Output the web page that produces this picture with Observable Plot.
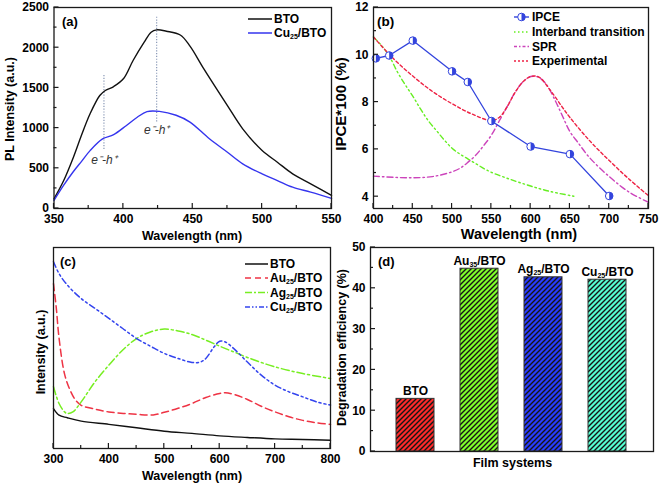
<!DOCTYPE html>
<html><head><meta charset="utf-8">
<script src="https://cdn.jsdelivr.net/npm/d3@7"></script>
<script src="https://cdn.jsdelivr.net/npm/@observablehq/plot@0.6"></script>
<style>
body{margin:0;background:#fff;}
#wrap{position:relative;width:661px;height:484px;overflow:hidden;font-family:"Liberation Sans",Arial,Helvetica,sans-serif;}
.panel{position:absolute;}
.panel svg{overflow:visible;}
</style></head>
<body><div id="wrap"></div>
<script>
// ---------- Panel (a) data: PL spectra ----------
const aBTOx = [350,357,364,370,376,383,387,393,400,407,415,420,424,431,441,448,458,475,486,500,511,522,535,550];
const aBTOy = [120,348,638,920,1178,1405,1468,1517,1613,1841,2069,2193,2222,2205,2158,2020,1737,1280,991,721,576,431,307,162];
const aCux = [350,357,364,370,376,385,393,402,410,417,426,438,448,462,475,486,500,511,522,535,550];
const aCuy = [100,290,460,590,720,865,918,1030,1135,1205,1208,1160,1075,867,700,556,431,348,265,203,125];
const aPeakX = [386, 424];
const aPeakTop = [1654, 2380];
const aPeakBottom = [721, 1073];
const aPeakLabelY = [597, 970];
const aPeakLabel = ["e⁻-h⁺", "e⁻-h⁺"];
const aXTicks = [350,400,450,500,550];
const aXMinor = [375,425,475,525];
const aYTicks = [0,500,1000,1500,2000,2500];
const aYMinor = [250,750,1250,1750,2250];

// ---------- Panel (b) data: IPCE ----------
const bIPCEx = [403,420,450,500,520,550,600,650,700];
const bIPCEy = [9.85,9.97,10.6,9.3,8.85,7.2,6.12,5.8,4.03];
const bInterx = [400,410,420,430,440,450,460,470,480,490,500,510,520,530,540,550,575,600,625,655];
const bIntery = [10.75,10.4,9.95,9.3,8.75,8.25,7.7,7.2,6.8,6.4,6.05,5.8,5.6,5.4,5.2,5.03,4.72,4.45,4.22,4.02];
const bSPRx = [400,425,450,475,500,510,520,530,540,550,560,570,580,590,600,610,620,630,640,650,660,675,700,725,750];
const bSPRy = [4.87,4.82,4.8,4.85,5.05,5.2,5.45,5.75,6.15,6.6,7.2,7.8,8.4,8.85,9.08,9.05,8.75,8.15,7.45,6.75,6.3,5.65,4.85,4.2,3.76];
const bExpx = [400,425,450,475,500,525,550,560,570,580,590,600,610,625,640,650,675,700,725,750];
const bExpy = [10.75,9.85,9.1,8.45,7.93,7.5,7.22,7.35,7.8,8.4,8.85,9.08,9.07,8.5,7.8,7.35,6.37,5.53,4.75,4.04];
const bXTicks = [400,450,500,550,600,650,700,750];
const bXMinor = [425,475,525,575,625,675,725];
const bYTicks = [4,6,8,10,12];
const bYMinor = [5,7,9,11];

// ---------- Panel (c) data: absorption ----------
const cBTOx = [300,310,325,350,400,450,500,550,600,650,700,750,800];
const cBTOy = [19.9,16.6,15.3,13.6,12,10.3,8.6,7.5,6.3,5.5,4.8,4.5,4.1];
const cAux = [300,305,310,320,330,340,350,375,400,450,480,500,525,550,575,600,610,625,650,675,700,725,750,775,800];
const cAuy = [82,70,55,37,29,24,21.5,19.6,18.2,17,16.7,18,20,22.4,25.4,27.4,27.7,27,24.4,21,18.2,15.8,14,12.8,12];
const cAgx = [300,310,320,325,335,350,375,400,425,450,475,500,525,550,575,600,625,650,700,750,800];
const cAgy = [30.7,22.4,18.2,17.4,18.2,23.2,33.2,41.5,49,54.7,58,59.4,58.5,56.7,53.9,50.9,48.1,45.3,40.6,37.3,34.8];
const cCux = [300,310,325,350,375,400,425,450,475,500,525,550,565,575,590,600,610,625,650,675,700,725,750,775,800];
const cCuy = [92.9,87,81.3,74.6,69.7,64.7,59.7,54.7,50.9,47.3,44.8,42.8,43,44.8,50.6,53.4,53,49.8,43,36.5,31.5,28.2,25.7,23.2,21.6];
const cXTicks = [300,400,500,600,700,800];
const cXMinor = [350,450,550,650,750];

// ---------- Panel (d) data: degradation ----------
const dCats = ["BTO","Au35/BTO","Ag25/BTO","Cu25/BTO"];
const dVals = [12.9,44.8,42.7,42.1];
const dYTicks = [0,10,20,30,40,50];
const dYMinor = [5,15,25,35,45];

// ---------- styles ----------
const FONT = '"Liberation Sans", Arial, Helvetica, sans-serif';
const C = {
  black:"#111", blue:"#3535ee", ipce:"#3344dd", green:"#66ee22", magenta:"#cc44bb", red:"#ee2244",
  cRed:"#ee3344", cGreen:"#77ee22", cBlue:"#3344ee",
  bars:["#ff2a2a","#80ff2a","#2a3cff","#55ffd2"]
};

const zip = (xs, ys) => xs.map((x,i)=>({x, y: ys[i]}));

// hatch patterns
const defs = d3.select("body").append("svg").attr("width",0).attr("height",0)
  .style("position","absolute").append("defs");
C.bars.forEach((c,i)=>{
  const p = defs.append("pattern").attr("id","hatch"+i).attr("patternUnits","userSpaceOnUse")
    .attr("width",5).attr("height",5);
  p.append("rect").attr("width",5).attr("height",5).attr("fill",c);
  p.append("path").attr("d","M-1,1 L1,-1 M0,5 L5,0 M4,6 L6,4").attr("stroke","#151515").attr("stroke-width",1.4);
});

// tick labels via Plot axes (no tick lines)
function axes({xMaj, yMaj}) {
  const m = [];
  if (xMaj) m.push(Plot.axisX({ticks: xMaj, tickSize: 0, tickPadding: 6, tickFormat: d => String(d), label: null, fontSize: 12}));
  if (yMaj) m.push(Plot.axisY({ticks: yMaj, tickSize: 0, tickPadding: 5, tickFormat: d => String(d), label: null, fontSize: 12}));
  return m;
}
// inward tick lines positioned with the plot's own scales
function inwardTicks(plot, s, dims, {xMaj=[], xMin=[], yMaj=[], yMin=[]}) {
  const g = s.append("g").attr("stroke", "#1a1a1a").attr("stroke-width", 1.2);
  const bottom = dims.height - dims.marginBottom, left = dims.marginLeft;
  if (xMaj.length || xMin.length) {
    const xs = plot.scale("x");
    [[xMaj,5],[xMin,3]].forEach(([ts,len]) => ts.forEach(v => {
      const x = xs.apply(v);
      g.append("line").attr("x1", x).attr("x2", x).attr("y1", bottom).attr("y2", bottom - len);
    }));
  }
  if (yMaj.length || yMin.length) {
    const ys = plot.scale("y");
    [[yMaj,5],[yMin,3]].forEach(([ts,len]) => ts.forEach(v => {
      const y = ys.apply(v);
      g.append("line").attr("y1", y).attr("y2", y).attr("x1", left).attr("x2", left + len);
    }));
  }
}

const baseStyle = {fontFamily: FONT, fontWeight: "bold", fontSize: "12px", color: "#000", background: "transparent", overflow: "visible", maxWidth: "none"};

function place(svg, left, top, w) {
  const div = document.createElement("div");
  div.className = "panel";
  div.style.left = left + "px"; div.style.top = top + "px"; div.style.width = w + "px";
  div.appendChild(svg);
  document.getElementById("wrap").appendChild(div);
  return d3.select(svg);
}

function richText(sel, str, subSize) {
  const m = str.match(/^([A-Za-z]+)(\d+)(\/.*)$/);
  if (!m) { sel.text(str); return; }
  sel.text(null);
  sel.append("tspan").text(m[1]);
  sel.append("tspan").attr("font-size", subSize).attr("dy", 2).text(m[2]);
  sel.append("tspan").attr("dy", -2).text(m[3]);
}

function title(g, text, x, y, rot, size) {
  const t = g.append("text").attr("font-size", size).attr("font-weight","bold")
    .attr("text-anchor","middle").attr("fill","#000").text(text);
  if (rot) t.attr("transform", `translate(${x},${y}) rotate(-90)`);
  else t.attr("x", x).attr("y", y);
  return t;
}
function startText(g, x, y, size) {
  return g.append("text").attr("x", x).attr("y", y).attr("font-size", size)
    .attr("font-weight","bold").attr("text-anchor","start").attr("fill","#000");
}

// ================= Panel (a) =================
{
  const dims = {width: 335, height: 245, marginLeft: 53.5, marginRight: 4, marginTop: 7, marginBottom: 37};
  const bto = zip(aBTOx, aBTOy), cu = zip(aCux, aCuy);
  const peaks = aPeakX.map((x,i)=>({x, y1: aPeakTop[i], y2: aPeakBottom[i], ly: aPeakLabelY[i], t: aPeakLabel[i]}));
  const p = Plot.plot({
    ...dims,
    style: baseStyle,
    x: {domain: [350,550], label: null},
    y: {domain: [0,2500], label: null},
    marks: [
      Plot.ruleX(peaks, {x: "x", y1: "y1", y2: "y2", stroke: "#7f8fb0", strokeWidth: 1.1, strokeDasharray: "1.2,1.6"}),
      Plot.text(peaks, {x: "x", y: "ly", text: "t", fontStyle: "italic", fontWeight: "normal", fontSize: 12, fill: "#333"}),
      Plot.line(bto, {x: "x", y: "y", stroke: C.black, strokeWidth: 1.4, curve: "catmull-rom"}),
      Plot.line(cu, {x: "x", y: "y", stroke: C.blue, strokeWidth: 1.4, curve: "catmull-rom"}),
      ...axes({xMaj: aXTicks, yMaj: aYTicks}),
      Plot.frame({stroke: "#1a1a1a", strokeWidth: 1.3})
    ]
  });
  const s = place(p, 0, 0, 335);
  inwardTicks(p, s, dims, {xMaj: aXTicks, xMin: aXMinor, yMaj: aYTicks, yMin: aYMinor});
  const g = s.append("g");
  title(g, "Wavelength (nm)", 192, 240, false, 12.5);
  title(g, "PL Intensity (a.u.)", 13.5, 109, true, 12.5);
  startText(g, 62, 25.5, 13).text("(a)");
  const leg = [{t:"BTO", c:C.black, y:19}, {t:"Cu25/BTO", c:C.blue, y:33}];
  leg.forEach(d=>{
    g.append("line").attr("x1",248).attr("x2",272).attr("y1",d.y).attr("y2",d.y).attr("stroke",d.c).attr("stroke-width",1.5);
    richText(startText(g, 274, d.y+4.3, 12), d.t, 7);
  });
}

// ================= Panel (b) =================
{
  const dims = {width: 331, height: 245, marginLeft: 43, marginRight: 13, marginTop: 7, marginBottom: 37};
  const half = {draw(ctx, size){ const r = Math.sqrt(size/Math.PI); ctx.moveTo(0,-r); ctx.arc(0,0,r,-Math.PI/2,Math.PI/2); ctx.closePath(); }};
  const ipce = zip(bIPCEx, bIPCEy);
  const p = Plot.plot({
    ...dims,
    style: baseStyle,
    x: {domain: [400,750], label: null},
    y: {domain: [3.5,12], label: null},
    marks: [
      Plot.line(zip(bInterx, bIntery), {x:"x", y:"y", stroke: C.green, strokeWidth: 1.4, strokeDasharray: "5,3,1.5,3,1.5,3", curve: "catmull-rom"}),
      Plot.line(zip(bSPRx, bSPRy), {x:"x", y:"y", stroke: C.magenta, strokeWidth: 1.4, strokeDasharray: "6,3,1.5,3", curve: "catmull-rom"}),
      Plot.line(zip(bExpx, bExpy), {x:"x", y:"y", stroke: C.red, strokeWidth: 1.4, strokeDasharray: "3,2.5", curve: "catmull-rom"}),
      Plot.line(ipce, {x:"x", y:"y", stroke: C.ipce, strokeWidth: 1.3}),
      Plot.dot(ipce, {x:"x", y:"y", r: 3.8, fill: "white", stroke: C.ipce, strokeWidth: 1}),
      Plot.dot(ipce, {x:"x", y:"y", r: 3.8, symbol: half, fill: C.ipce, stroke: "none"}),
      ...axes({xMaj: bXTicks, yMaj: bYTicks}),
      Plot.frame({stroke: "#1a1a1a", strokeWidth: 1.3})
    ]
  });
  const s = place(p, 330, 0, 331);
  inwardTicks(p, s, dims, {xMaj: bXTicks, xMin: bXMinor, yMaj: bYTicks, yMin: bYMinor});
  const g = s.append("g");
  title(g, "Wavelength (nm)", 189, 239, false, 14.5);
  title(g, "IPCE*100 (%)", 15.5, 104, true, 15);
  startText(g, 47, 26, 13.5).text("(b)");
  const leg = [
    {t:"IPCE", c:C.ipce, y:17, dash:null, mk:true},
    {t:"Interband transition", c:C.green, y:32, dash:"1.5,2.5"},
    {t:"SPR", c:C.magenta, y:46.5, dash:"3,2,1.5,2"},
    {t:"Experimental", c:C.red, y:61, dash:"2,2"}
  ];
  leg.forEach(d=>{
    const l = g.append("line").attr("x1",184).attr("x2",199).attr("y1",d.y).attr("y2",d.y).attr("stroke",d.c).attr("stroke-width",1.4);
    if (d.dash) l.attr("stroke-dasharray", d.dash);
    if (d.mk) {
      g.append("circle").attr("cx",191.5).attr("cy",d.y).attr("r",3.8).attr("fill","white").attr("stroke",d.c);
      g.append("path").attr("d", d3.arc()({innerRadius:0, outerRadius:3.8, startAngle:0, endAngle:Math.PI})).attr("transform",`translate(191.5,${d.y})`).attr("fill",d.c);
    }
    startText(g, 202, d.y+4.3, 12).text(d.t);
  });
}

// ================= Panel (c) =================
{
  const dims = {width: 335, height: 244, marginLeft: 53, marginRight: 5, marginTop: 7, marginBottom: 36};
  const p = Plot.plot({
    ...dims,
    style: baseStyle,
    x: {domain: [300,800], label: null},
    y: {domain: [0,100], axis: null, label: null},
    marks: [
      Plot.line(zip(cBTOx, cBTOy), {x:"x", y:"y", stroke: C.black, strokeWidth: 1.4, curve: "catmull-rom"}),
      Plot.line(zip(cAux, cAuy), {x:"x", y:"y", stroke: C.cRed, strokeWidth: 1.5, strokeDasharray: "7,4", curve: "catmull-rom"}),
      Plot.line(zip(cAgx, cAgy), {x:"x", y:"y", stroke: C.cGreen, strokeWidth: 1.5, strokeDasharray: "8,3,2,3", curve: "catmull-rom"}),
      Plot.line(zip(cCux, cCuy), {x:"x", y:"y", stroke: C.cBlue, strokeWidth: 1.5, strokeDasharray: "6,3,2,3,2,3", curve: "catmull-rom"}),
      ...axes({xMaj: cXTicks}),
      Plot.frame({stroke: "#1a1a1a", strokeWidth: 1.3})
    ]
  });
  const s = place(p, 0, 240, 335);
  inwardTicks(p, s, dims, {xMaj: cXTicks, xMin: cXMinor});
  const g = s.append("g");
  title(g, "Wavelength (nm)", 192, 239.5, false, 12.5);
  title(g, "Intensity (a.u.)", 44.5, 112, true, 12.5);
  startText(g, 60, 26, 13).text("(c)");
  const leg = [
    {t:"BTO", c:C.black, y:24, dash:null},
    {t:"Au25/BTO", c:C.cRed, y:38, dash:"6,4"},
    {t:"Ag25/BTO", c:C.cGreen, y:52.5, dash:"7,2,2,2"},
    {t:"Cu25/BTO", c:C.cBlue, y:67, dash:"5,2,1.5,2,1.5,2"}
  ];
  leg.forEach(d=>{
    const l = g.append("line").attr("x1",245).attr("x2",268).attr("y1",d.y).attr("y2",d.y).attr("stroke",d.c).attr("stroke-width",1.5);
    if (d.dash) l.attr("stroke-dasharray", d.dash);
    richText(startText(g, 270, d.y+4.3, 12), d.t, 7);
  });
}

// ================= Panel (d) =================
{
  const dims = {width: 331, height: 244, marginLeft: 40, marginRight: 8, marginTop: 7, marginBottom: 33};
  const data = dCats.map((c,i)=>({cat: c, val: dVals[i], fill: `url(#hatch${i})`}));
  const p = Plot.plot({
    ...dims,
    style: baseStyle,
    x: {domain: dCats, padding: 0.4, axis: null, label: null},
    y: {domain: [0,50], label: null},
    color: {type: "identity"},
    marks: [
      Plot.barY(data, {x: "cat", y: "val", fill: "fill", stroke: "#333", strokeWidth: 1}),
      Plot.text(data, {x: "cat", y: "val", text: "cat", dy: -8, fontSize: 12, fontWeight: "bold", fill: "#000"}),
      ...axes({yMaj: dYTicks}),
      Plot.frame({stroke: "#1a1a1a", strokeWidth: 1.3})
    ]
  });
  const s = place(p, 330, 240, 331);
  s.selectAll("text").each(function(){
    const t = this.textContent;
    if (/^[A-Za-z]+\d+\/BTO$/.test(t) && this.childElementCount === 0) richText(d3.select(this), t, 7);
  });
  inwardTicks(p, s, dims, {yMaj: dYTicks, yMin: dYMinor});
  const g = s.append("g");
  title(g, "Film systems", 182.5, 226.5, false, 12.5);
  title(g, "Degradation efficiency (%)", 16, 107.5, true, 12.5);
  startText(g, 48, 26, 13).text("(d)");
}
</script>
</body></html>
